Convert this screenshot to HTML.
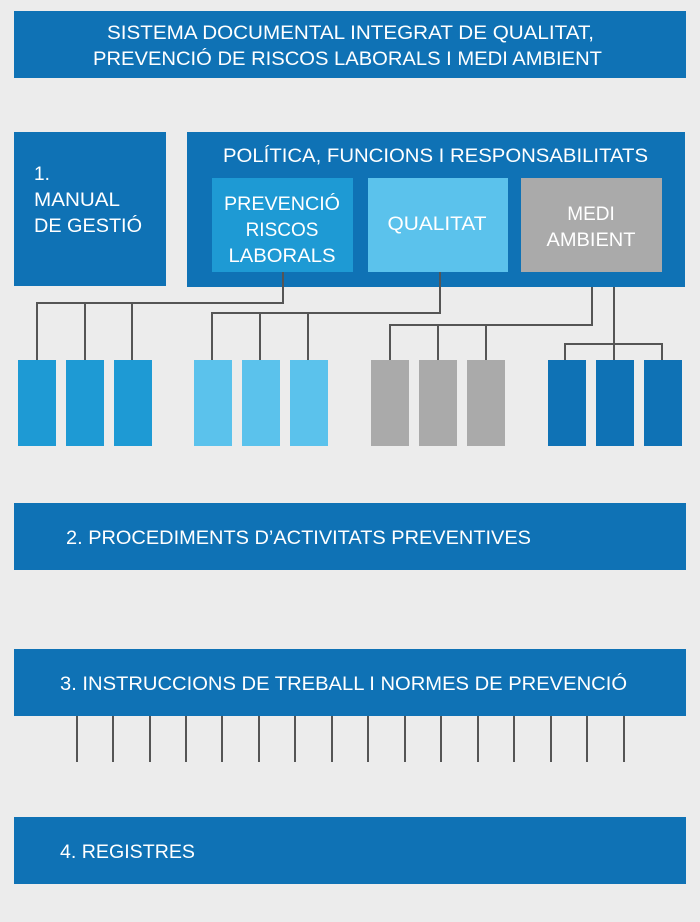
<!DOCTYPE html>
<html><head><meta charset="utf-8"><style>
html,body{margin:0;padding:0;background:#ececec;}
svg{display:block;}
text{font-family:"Liberation Sans",sans-serif;fill:#fff;font-size:19px;}
</style></head><body>
<svg width="700" height="922" viewBox="0 0 700 922" xmlns="http://www.w3.org/2000/svg">
<rect width="700" height="922" fill="#ececec"/>
<rect x="14" y="11" width="672" height="67" fill="#0f72b5"/>
<text x="107" y="39" textLength="487" lengthAdjust="spacingAndGlyphs">SISTEMA DOCUMENTAL INTEGRAT DE QUALITAT,</text>
<text x="93" y="65" textLength="509" lengthAdjust="spacingAndGlyphs">PREVENCIÓ DE RISCOS LABORALS I MEDI AMBIENT</text>

<rect x="14" y="132" width="152" height="154" fill="#0f72b5"/>
<text x="34" y="180">1.</text>
<text x="34" y="206" textLength="86" lengthAdjust="spacingAndGlyphs">MANUAL</text>
<text x="34" y="232" textLength="108" lengthAdjust="spacingAndGlyphs">DE GESTIÓ</text>

<rect x="187" y="132" width="498" height="155" fill="#0f72b5"/>
<text x="223" y="162" textLength="425" lengthAdjust="spacingAndGlyphs">POLÍTICA, FUNCIONS I RESPONSABILITATS</text>
<rect x="212" y="178" width="141" height="94" fill="#1e9ad4"/>
<rect x="368" y="178" width="140" height="94" fill="#5bc2ec"/>
<rect x="521" y="178" width="141" height="94" fill="#aaaaaa"/>
<g text-anchor="middle">
<text x="282" y="210" textLength="116" lengthAdjust="spacingAndGlyphs">PREVENCIÓ</text>
<text x="282" y="236">RISCOS</text>
<text x="282" y="262" textLength="107" lengthAdjust="spacingAndGlyphs">LABORALS</text>
<text x="437" y="230" textLength="99" lengthAdjust="spacingAndGlyphs">QUALITAT</text>
<text x="591" y="220">MEDI</text>
<text x="591" y="246" textLength="89" lengthAdjust="spacingAndGlyphs">AMBIENT</text>
</g>

<g stroke="#555" stroke-width="2" fill="none">
<polyline points="283,272 283,303 37,303 37,360"/>
<line x1="85" y1="303" x2="85" y2="360"/>
<line x1="132" y1="303" x2="132" y2="360"/>
<polyline points="440,272 440,313 212,313 212,360"/>
<line x1="260" y1="313" x2="260" y2="360"/>
<line x1="308" y1="313" x2="308" y2="360"/>
<polyline points="592,287 592,325 390,325 390,360"/>
<line x1="438" y1="325" x2="438" y2="360"/>
<line x1="486" y1="325" x2="486" y2="360"/>
<line x1="614" y1="287" x2="614" y2="360"/>
<polyline points="565,360 565,344 662,344 662,360"/>
</g>

<g fill="#1e9ad4"><rect x="18" y="360" width="38" height="86"/><rect x="66" y="360" width="38" height="86"/><rect x="114" y="360" width="38" height="86"/></g>
<g fill="#5bc2ec"><rect x="194" y="360" width="38" height="86"/><rect x="242" y="360" width="38" height="86"/><rect x="290" y="360" width="38" height="86"/></g>
<g fill="#aaaaaa"><rect x="371" y="360" width="38" height="86"/><rect x="419" y="360" width="38" height="86"/><rect x="467" y="360" width="38" height="86"/></g>
<g fill="#0f72b5"><rect x="548" y="360" width="38" height="86"/><rect x="596" y="360" width="38" height="86"/><rect x="644" y="360" width="38" height="86"/></g>

<rect x="14" y="503" width="672" height="67" fill="#0f72b5"/>
<text x="66" y="544" textLength="465" lengthAdjust="spacingAndGlyphs">2. PROCEDIMENTS D’ACTIVITATS PREVENTIVES</text>

<rect x="14" y="649" width="672" height="67" fill="#0f72b5"/>
<text x="60" y="690" textLength="567" lengthAdjust="spacingAndGlyphs">3. INSTRUCCIONS DE TREBALL I NORMES DE PREVENCIÓ</text>
<g stroke="#555" stroke-width="2">
<line x1="77" y1="716" x2="77" y2="762"/><line x1="113" y1="716" x2="113" y2="762"/><line x1="150" y1="716" x2="150" y2="762"/><line x1="186" y1="716" x2="186" y2="762"/>
<line x1="222" y1="716" x2="222" y2="762"/><line x1="259" y1="716" x2="259" y2="762"/><line x1="295" y1="716" x2="295" y2="762"/><line x1="332" y1="716" x2="332" y2="762"/>
<line x1="368" y1="716" x2="368" y2="762"/><line x1="405" y1="716" x2="405" y2="762"/><line x1="441" y1="716" x2="441" y2="762"/><line x1="478" y1="716" x2="478" y2="762"/>
<line x1="514" y1="716" x2="514" y2="762"/><line x1="551" y1="716" x2="551" y2="762"/><line x1="587" y1="716" x2="587" y2="762"/><line x1="624" y1="716" x2="624" y2="762"/>
</g>

<rect x="14" y="817" width="672" height="67" fill="#0f72b5"/>
<text x="60" y="858" textLength="135" lengthAdjust="spacingAndGlyphs">4. REGISTRES</text>
</svg>
</body></html>
